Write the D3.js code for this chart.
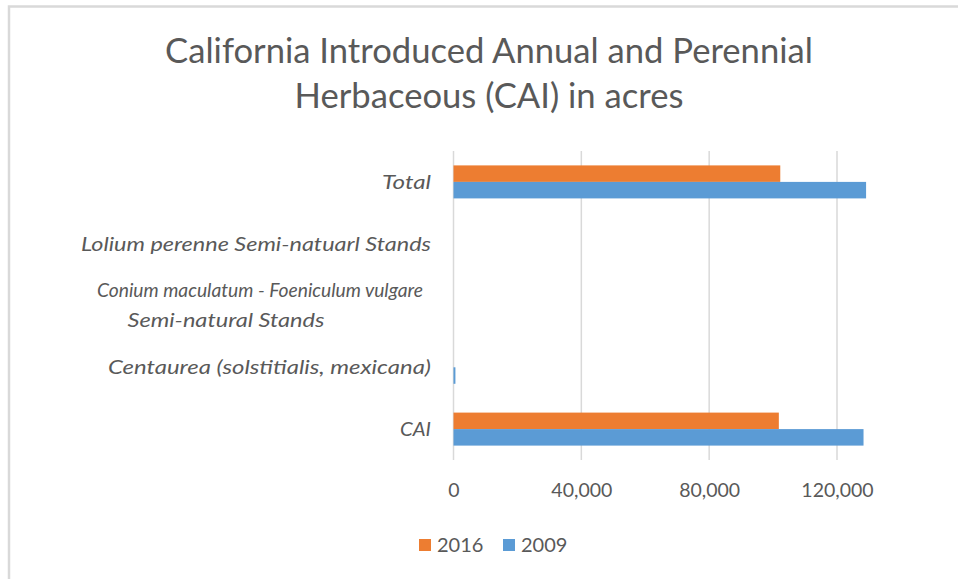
<!DOCTYPE html>
<html>
<head>
<meta charset="utf-8">
<script src="https://cdn.jsdelivr.net/npm/d3@7"></script>
<style>
  body { margin: 0; background: #fff; }
  text { font-family: Lato, "Open Sans", sans-serif; fill: #595959; }
</style>
</head>
<body>
<div id="chart"></div>
<script>
/* --- データ --- */
const categories = [
  "Total",
  "Lolium perenne Semi-natuarl Stands",
  "Conium maculatum - Foeniculum vulgare Semi-natural Stands",
  "Centaurea (solstitialis, mexicana)",
  "CAI"
];
const seriesNames = ["2016", "2009"];
const values2016 = [102250, 0, 0, 0, 101800];
const values2009 = [129100, 0, 0, 600, 128300];
const xTicks = [0, 40000, 80000, 120000];
const titleLines = ["California Introduced Annual and Perennial", "Herbaceous (CAI) in acres"];

const colors = { "2016": "#ED7D31", "2009": "#5B9BD5" };
const width = 958, height = 579;
const plot = { left: 453.5, right: 837, top: 151, bottom: 460 };

const svg = d3.select("#chart").append("svg")
  .attr("width", width).attr("height", height);

/* --- 外枠 --- */
svg.append("path")
  .attr("d", `M9,${height} L9,6.5 L${width},6.5`)
  .attr("fill", "none").attr("stroke", "#d9d9d9").attr("stroke-width", 2.5);

/* --- 幅を合わせる --- */
function fitText(sel, target) {
  const w = sel.node().getComputedTextLength();
  const fs = parseFloat(sel.attr("font-size"));
  sel.attr("font-size", fs * target / w);
}

/* --- タイトル --- */
const t1 = svg.append("text").attr("x", 489).attr("y", 63)
  .attr("text-anchor", "middle").attr("font-size", 30).text(titleLines[0]);
fitText(t1, 648);
svg.append("text").attr("x", 489).attr("y", 108)
  .attr("text-anchor", "middle").attr("font-size", t1.attr("font-size")).text(titleLines[1]);

/* --- スケール --- */
const x = d3.scaleLinear().domain([0, 120000]).range([plot.left, plot.right]);
const y = d3.scaleBand().domain(categories).range([plot.top, plot.bottom])
  .paddingInner(0.466).paddingOuter(0.233);
const ySub = d3.scaleBand().domain(seriesNames).range([0, y.bandwidth()]);

/* --- グリッド --- */
svg.append("g").selectAll("line").data(xTicks).enter().append("line")
  .attr("x1", d => x(d)).attr("x2", d => x(d))
  .attr("y1", plot.top).attr("y2", plot.bottom)
  .attr("stroke", "#d9d9d9").attr("stroke-width", 1.5);

/* --- 棒 --- */
const rows = categories.map((c, i) => ({ cat: c, "2016": values2016[i], "2009": values2009[i] }));
const groups = svg.append("g").selectAll("g").data(rows).enter().append("g")
  .attr("transform", d => `translate(0,${y(d.cat)})`);
groups.selectAll("rect")
  .data(d => seriesNames.map(s => ({ s: s, v: d[s] })).filter(e => e.v > 0))
  .enter().append("rect")
  .attr("x", x(0))
  .attr("y", d => ySub(d.s))
  .attr("width", d => x(d.v) - x(0))
  .attr("height", ySub.bandwidth())
  .attr("fill", d => colors[d.s]);

/* --- 目盛ラベル --- */
const xAxis = d3.axisBottom(x).tickValues(xTicks).tickSize(0).tickFormat(d3.format(","));
const ax = svg.append("g").attr("transform", `translate(0,${plot.bottom})`).call(xAxis);
ax.select(".domain").remove();
ax.selectAll("text").attr("font-size", 19.5).attr("fill", "#595959")
  .attr("dy", 0).attr("y", 37)
  .style("font-family", "Lato, sans-serif");

/* --- 項目ラベル（参照画像の幅に合わせる） --- */
const catLabels = svg.append("g").attr("font-style", "italic").attr("font-size", 19.5);
function addLabel(txt, lx, ly, anchor, w) {
  catLabels.append("text").attr("x", lx).attr("y", ly).attr("text-anchor", anchor)
    .attr("textLength", w).attr("lengthAdjust", "spacingAndGlyphs").text(txt);
}
const labelWidths = { "Total": 49, "Lolium": 350, "Centaurea": 323, "CAI": 31 };
categories.forEach(c => {
  const cy = y(c) + y.bandwidth() / 2;
  if (c.startsWith("Conium")) {
    addLabel("Conium maculatum - Foeniculum vulgare", 423, cy - 9, "end", 326);
    addLabel("Semi-natural Stands", 226, cy + 21, "middle", 197);
  } else {
    addLabel(c, 431, cy + 7, "end", labelWidths[c.split(" ")[0]]);
  }
});

/* --- 凡例 --- */
const legendX = [419, 503];
const legend = svg.append("g").selectAll("g").data(seriesNames).enter().append("g")
  .attr("transform", (d, i) => `translate(${legendX[i]},539)`);
legend.append("rect").attr("width", 12).attr("height", 12).attr("fill", d => colors[d]);
legend.append("text").attr("x", 18).attr("y", 13).attr("font-size", 20).text(d => d);
</script>
</body>
</html>
